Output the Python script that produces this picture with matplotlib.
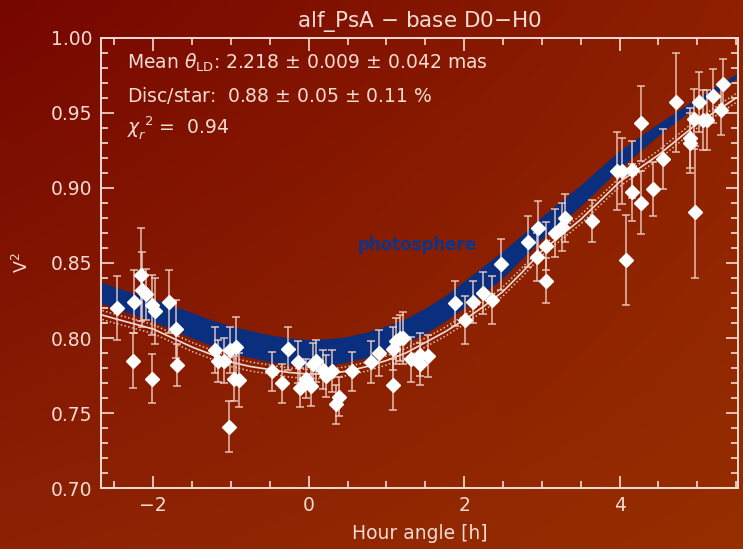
#!/usr/bin/env python3
import matplotlib
matplotlib.use("Agg")
import matplotlib.pyplot as plt
import numpy as np

# observed squared visibilities (hour angle [h], V^2, 1-sigma error)
hour = [-2.47, -2.24, -2.26, -2.16, -2.14, -2.09, -2.02, -1.97, -2.02, -1.80,
        -1.70, -1.69, -1.20, -1.17, -1.09, -1.01, -0.94, -0.96, -0.90, -1.03,
        -0.47, -0.34, -0.27, -0.14, -0.11, -0.03, 0.03, 0.06, 0.09, 0.18,
        0.22, 0.30, 0.35, 0.39, 0.56, 0.80, 0.91, 1.09, 1.08, 1.13,
        1.18, 1.22, 1.32, 1.43, 1.43, 1.54, 1.88, 2.01, 2.11, 2.24,
        2.36, 2.47, 2.82, 2.95, 2.94, 3.05, 3.05, 3.17, 3.26, 3.30,
        3.64, 3.96, 4.03, 4.16, 4.16, 4.28, 4.27, 4.08, 4.43, 4.56,
        4.72, 4.90, 4.90, 4.97, 4.96, 5.02, 5.07, 5.12, 5.20, 5.30, 5.33]
vis2 = [0.820, 0.824, 0.785, 0.842, 0.832, 0.829, 0.822, 0.818, 0.773, 0.824,
        0.806, 0.782, 0.792, 0.785, 0.785, 0.792, 0.794, 0.773, 0.772, 0.741,
        0.778, 0.770, 0.793, 0.784, 0.767, 0.773, 0.768, 0.783, 0.785, 0.779,
        0.775, 0.778, 0.756, 0.761, 0.778, 0.784, 0.790, 0.769, 0.793, 0.798,
        0.800, 0.800, 0.786, 0.789, 0.783, 0.788, 0.823, 0.812, 0.824, 0.830,
        0.825, 0.849, 0.864, 0.873, 0.854, 0.861, 0.838, 0.870, 0.874, 0.880,
        0.878, 0.911, 0.911, 0.912, 0.897, 0.943, 0.890, 0.852, 0.899, 0.919,
        0.957, 0.933, 0.930, 0.884, 0.946, 0.957, 0.945, 0.945, 0.961, 0.952, 0.969]
vis2_err = [0.021, 0.021, 0.018, 0.031, 0.025, 0.017, 0.020, 0.022, 0.0165, 0.021,
            0.019, 0.014, 0.015, 0.014, 0.015, 0.015, 0.020, 0.015, 0.018, 0.017,
            0.013, 0.013, 0.014, 0.014, 0.013, 0.013, 0.013, 0.014, 0.014, 0.013,
            0.014, 0.014, 0.013, 0.013, 0.013, 0.014, 0.015, 0.017, 0.014, 0.015,
            0.015, 0.017, 0.015, 0.014, 0.014, 0.014, 0.015, 0.016, 0.014, 0.014,
            0.016, 0.017, 0.017, 0.018, 0.016, 0.016, 0.015, 0.016, 0.016, 0.016,
            0.014, 0.026, 0.022, 0.019, 0.019, 0.025, 0.021, 0.030, 0.018, 0.020,
            0.033, 0.020, 0.020, 0.044, 0.020, 0.020, 0.020, 0.020, 0.018, 0.017, 0.017]

# model curves sampled along hour angle
model_hour = [-2.7, -2.5, -2.0, -1.5, -1.25, -1.0, -0.75, -0.5, -0.25, 0.0,
              0.25, 0.5, 0.75, 1.0, 1.25, 1.5, 1.75, 2.0, 2.25, 2.5,
              2.75, 3.0, 3.5, 4.0, 4.5, 5.0, 5.5]
photo_upper = [0.838, 0.834, 0.826, 0.817, 0.812, 0.808, 0.805, 0.802, 0.800, 0.799,
               0.7995, 0.801, 0.804, 0.808, 0.813, 0.820, 0.828, 0.838, 0.848, 0.858,
               0.869, 0.881, 0.902, 0.925, 0.943, 0.960, 0.976]
photo_lower = [0.824, 0.820, 0.811, 0.800, 0.795, 0.790, 0.787, 0.784, 0.782, 0.781,
               0.7815, 0.784, 0.787, 0.792, 0.797, 0.803, 0.811, 0.820, 0.830, 0.840,
               0.853, 0.866, 0.888, 0.913, 0.935, 0.955, 0.973]
disc_model = [0.816, 0.813, 0.806, 0.794, 0.789, 0.784, 0.781, 0.779, 0.777, 0.776,
              0.776, 0.778, 0.781, 0.785, 0.790, 0.797, 0.804, 0.812, 0.821, 0.831,
              0.844, 0.858, 0.879, 0.904, 0.922, 0.943, 0.960]
disc_spread = 0.003

TXT = '#f3dcd4'
BAND = '#0a2f7e'


def background(fig):
    """Reddish gradient behind everything"""
    bg = fig.add_axes([0, 0, 1, 1], zorder=-10)
    ny, nx = 60, 80
    tl = np.array([118, 6, 0]) / 255
    tr = np.array([142, 32, 0]) / 255
    bl = np.array([140, 34, 4]) / 255
    br = np.array([150, 46, 0]) / 255
    u = np.linspace(0, 1, nx)[None, :, None]
    v = np.linspace(0, 1, ny)[:, None, None]
    img = (1 - v) * ((1 - u) * tl + u * tr) + v * ((1 - u) * bl + u * br)
    bg.imshow(img, aspect='auto', extent=[0, 1, 0, 1], interpolation='bilinear')
    bg.axis('off')


def plot_vis():
    fig = plt.figure(figsize=(7.43, 5.49), dpi=100)
    background(fig)
    ax = fig.add_axes([0.136, 0.111, 0.857, 0.820])
    ax.set_facecolor('none')

    # photosphere band
    ax.fill_between(model_hour, photo_lower, photo_upper, color=BAND, lw=0, zorder=2)

    # star + disc model with its uncertainty
    dm = np.array(disc_model)
    ax.plot(model_hour, dm, color=TXT, lw=1.2, zorder=3)
    ax.plot(model_hour, dm + disc_spread, color=TXT, lw=1.1, ls=(0, (1, 1.5)),
            alpha=0.85, zorder=3)
    ax.plot(model_hour, dm - disc_spread, color=TXT, lw=1.1, ls=(0, (1, 1.5)),
            alpha=0.85, zorder=3)

    # data
    ax.errorbar(hour, vis2, yerr=vis2_err, fmt='none', ecolor='#f0cfc6',
                elinewidth=1.1, capsize=3, capthick=1.1, alpha=0.9, zorder=4)
    ax.plot(hour, vis2, 'D', color='white', ms=7, mec='white', zorder=5)

    ax.set_xlim(-2.67, 5.52)
    ax.set_ylim(0.70, 1.00)
    ax.set_xticks([-2, 0, 2, 4])
    ax.set_xticks(np.arange(-2.5, 5.51, 0.5), minor=True)
    ax.set_yticks(np.arange(0.70, 1.001, 0.05))
    ax.set_yticks(np.arange(0.70, 1.001, 0.01), minor=True)
    ax.yaxis.set_major_formatter(matplotlib.ticker.FormatStrFormatter('%.2f'))

    ax.tick_params(which='both', direction='in', top=True, right=True,
                   colors=TXT, labelsize=13.5, width=1.2)
    ax.tick_params(which='major', length=9, pad=6)
    ax.tick_params(which='minor', length=5)
    for s in ax.spines.values():
        s.set_color(TXT)
        s.set_linewidth(1.4)

    ax.set_xlabel('Hour angle [h]', color=TXT, fontsize=13.5, labelpad=6)
    ax.set_ylabel('V$^2$', color=TXT, fontsize=12.5, labelpad=14)
    ax.set_title('alf_PsA $-$ base D0$-$H0', color=TXT, fontsize=15.5, pad=8)

    ax.text(0.04, 0.945, r'Mean $\theta_{\rm LD}$: 2.218 $\pm$ 0.009 $\pm$ 0.042 mas',
            transform=ax.transAxes, color=TXT, fontsize=13.5, va='center')
    ax.text(0.04, 0.872, r'Disc/star:  0.88 $\pm$ 0.05 $\pm$ 0.11 %',
            transform=ax.transAxes, color=TXT, fontsize=13.5, va='center')
    ax.text(0.04, 0.80, r'$\chi_r^{\ 2}$ =  0.94',
            transform=ax.transAxes, color=TXT, fontsize=13.5, va='center')
    ax.text(0.63, 0.862, 'photosphere', color='#0c3588', fontsize=12,
            fontweight='bold', va='center', zorder=6)

    fig.savefig('out.png', dpi=100)
    plt.close(fig)


if __name__ == "__main__":
    plot_vis()
